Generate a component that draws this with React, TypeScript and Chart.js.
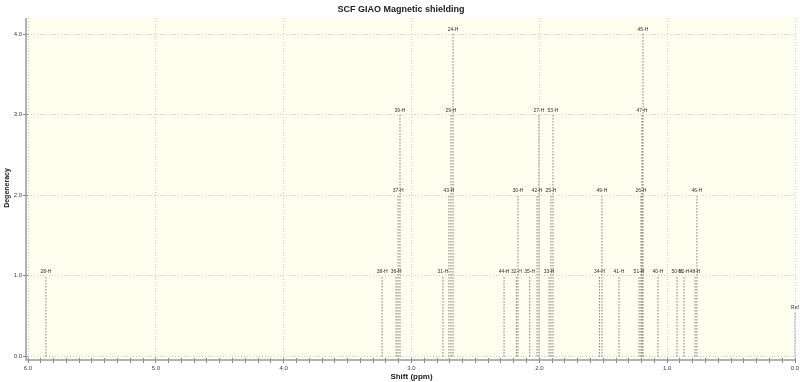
import React, { useEffect, useRef } from "react";
import { Chart, registerables } from "chart.js";

Chart.register(...registerables);

const chartTitle = "SCF GIAO Magnetic shielding";
const xAxisTitle = "Shift (ppm)";
const yAxisTitle = "Degeneracy";

const peakLabels = [
  "28-H", "38-H", "36-H", "37-H", "39-H", "31-H", "43-H", "29-H", "24-H", "44-H",
  "32-H", "30-H", "35-H", "42-H", "27-H", "33-H", "25-H", "53-H", "34-H", "49-H",
  "41-H", "51-H", "26-H", "47-H", "45-H", "40-H", "50-H", "52-H", "48-H", "46-H",
];
const peakShifts = [
  5.86, 3.23, 3.12, 3.105, 3.09, 2.754, 2.707, 2.691, 2.675, 2.276,
  2.18, 2.167, 2.075, 2.018, 2.003, 1.924, 1.909, 1.893, 1.53, 1.51,
  1.377, 1.22, 1.205, 1.197, 1.189, 1.072, 0.923, 0.868, 0.782, 0.767,
];
const peakDegeneracy = [
  1, 1, 1, 2, 3, 1, 2, 3, 4, 1,
  1, 2, 1, 2, 3, 1, 2, 3, 1, 2,
  1, 1, 2, 3, 4, 1, 1, 1, 1, 2,
];
const refLabel = "Ref";
const refShift = 0.0;
const refHeight = 0.55;

const xMajorTicks = [0, 1, 2, 3, 4, 5, 6];
const xMinorStep = 0.1;
const yTicks = [0, 1, 2, 3, 4];

export default function App() {
  const ref = useRef<HTMLCanvasElement>(null);

  useEffect(() => {
    const canvas = ref.current!;
    const datasets: any[] = peakLabels.map((lab, i) => ({
      label: lab,
      data: [
        { x: peakShifts[i], y: 0 },
        { x: peakShifts[i], y: peakDegeneracy[i] },
      ],
      borderColor: "#3a3a3a",
      borderWidth: 1,
      borderDash: [1, 2],
      pointRadius: 0,
      showLine: true,
      fill: false,
    }));
    datasets.push({
      label: refLabel,
      data: [
        { x: refShift, y: 0 },
        { x: refShift, y: refHeight },
      ],
      borderColor: "#3050d0",
      borderWidth: 1,
      borderDash: [1, 2],
      pointRadius: 0,
      showLine: true,
      fill: false,
      clip: 4,
    });

    const isMajor = (v: number) => Math.abs(v - Math.round(v)) < 1e-6;

    const plugin = {
      id: "nmrDecor",
      beforeDraw(chart: any) {
        const { ctx, chartArea: a } = chart;
        ctx.save();
        ctx.fillStyle = "#fffff0";
        ctx.fillRect(a.left, a.top, a.right - a.left, a.bottom - a.top);
        ctx.restore();
      },
      afterDatasetsDraw(chart: any) {
        const { ctx } = chart;
        const xs = chart.scales.x;
        const ys = chart.scales.y;
        ctx.save();
        ctx.font = "5px 'Liberation Sans', Arial, sans-serif";
        ctx.fillStyle = "#333";
        ctx.textAlign = "center";
        ctx.textBaseline = "bottom";
        chart.data.datasets.forEach((ds: any) => {
          const top = ds.data[1];
          const px = Math.min(xs.getPixelForValue(top.x), 796);
          const py = ys.getPixelForValue(top.y);
          ctx.fillText(ds.label, px, py - 2);
        });
        ctx.restore();
      },
      afterDraw(chart: any) {
        const { ctx, chartArea: a } = chart;
        ctx.save();
        ctx.strokeStyle = "#999";
        ctx.lineWidth = 1.5;
        ctx.beginPath();
        ctx.moveTo(a.left - 2, a.top);
        ctx.lineTo(a.left - 2, a.bottom + 2);
        ctx.lineTo(a.right, a.bottom + 2);
        ctx.stroke();
        ctx.fillStyle = "#222";
        ctx.textAlign = "center";
        ctx.textBaseline = "middle";
        ctx.font = "bold 9px 'Liberation Sans', Arial, sans-serif";
        ctx.fillText(chartTitle, 401, 10);
        ctx.font = "bold 8px 'Liberation Sans', Arial, sans-serif";
        ctx.fillText(xAxisTitle, (a.left + a.right) / 2, 377);
        ctx.translate(7, (a.top + a.bottom) / 2);
        ctx.rotate(-Math.PI / 2);
        ctx.font = "bold 7px 'Liberation Sans', Arial, sans-serif";
        ctx.fillText(yAxisTitle, 0, 0);
        ctx.restore();
      },
    };

    const chart = new Chart(canvas, {
      type: "scatter",
      data: { datasets },
      options: {
        animation: false,
        responsive: false,
        devicePixelRatio: 1,
        layout: { padding: { top: 18, right: 5, left: 0, bottom: 0 } },
        plugins: {
          legend: { display: false },
          tooltip: { enabled: false },
          title: { display: false },
        },
        scales: {
          x: {
            type: "linear",
            reverse: true,
            min: 0,
            max: 6,
            afterBuildTicks: (s: any) => {
              const n = Math.round((xMajorTicks[xMajorTicks.length - 1] - xMajorTicks[0]) / xMinorStep);
              const t: any[] = [];
              for (let i = 0; i <= n; i++) t.push({ value: xMajorTicks[0] + i * xMinorStep });
              s.ticks = t;
            },
            afterFit: (s: any) => {
              s.height = 24;
            },
            ticks: {
              autoSkip: false,
              maxRotation: 0,
              padding: 2,
              color: "#444",
              font: { size: 6, family: "'Liberation Sans', Arial, sans-serif" },
              callback: (v: any) => (isMajor(Number(v)) ? Number(v).toFixed(1) : ""),
            },
            grid: {
              color: (c: any) => (c.tick && isMajor(c.tick.value) ? "#cfcfcf" : "rgba(0,0,0,0)"),
              tickColor: "#888",
              tickLength: 5,
              lineWidth: 1,
            },
            border: { display: false, dash: [1, 2] },
          },
          y: {
            type: "linear",
            min: -0.02,
            max: 4.2,
            afterBuildTicks: (s: any) => {
              s.ticks = yTicks.map((v) => ({ value: v }));
            },
            afterFit: (s: any) => {
              s.width = 28;
            },
            ticks: {
              padding: 1,
              color: "#444",
              font: { size: 6, family: "'Liberation Sans', Arial, sans-serif" },
              callback: (v: any) => Number(v).toFixed(1),
            },
            grid: {
              color: "#cfcfcf",
              tickColor: "#888",
              tickLength: 5,
              lineWidth: 1,
            },
            border: { display: false, dash: [1, 2] },
          },
        },
      },
      plugins: [plugin],
    } as any);
    return () => chart.destroy();
  }, []);

  return (
    <div style={{ position: "absolute", left: 0, top: 0, width: 800, height: 382, background: "#fff" }}>
      <canvas ref={ref} width={800} height={382} style={{ display: "block" }} />
    </div>
  );
}
